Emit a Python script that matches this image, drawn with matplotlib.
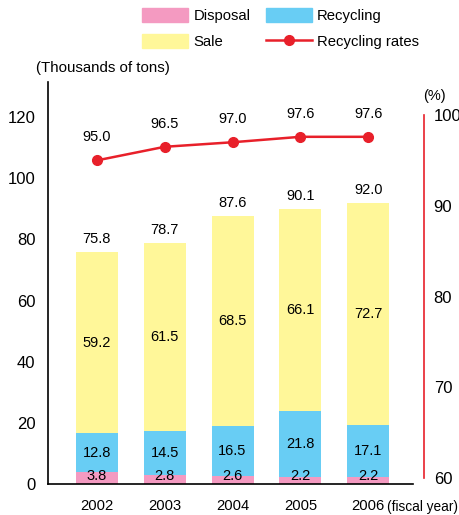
import matplotlib
matplotlib.use("Agg")
import matplotlib.pyplot as plt
from matplotlib.patches import Patch
from matplotlib.lines import Line2D

plt.rcParams['font.family'] = ['Liberation Sans', 'DejaVu Sans']

years = ["2002", "2003", "2004", "2005", "2006"]
disposal = [3.8, 2.8, 2.6, 2.2, 2.2]
recycling = [12.8, 14.5, 16.5, 21.8, 17.1]
sale = [59.2, 61.5, 68.5, 66.1, 72.7]
totals = [75.8, 78.7, 87.6, 90.1, 92.0]
rates = [95.0, 96.5, 97.0, 97.6, 97.6]

c_disp = "#F49AC1"
c_rec = "#68CDF4"
c_sale = "#FFF799"
c_red = "#E8202A"

fig = plt.figure(figsize=(4.6, 5.15), dpi=100)
ax = fig.add_axes([48 / 460, 1 - 484 / 515, 365 / 460, 402 / 515])

x = list(range(len(years)))
w = 0.62
base2 = [d + r for d, r in zip(disposal, recycling)]
ax.bar(x, disposal, w, color=c_disp, zorder=2)
ax.bar(x, recycling, w, bottom=disposal, color=c_rec, zorder=2)
ax.bar(x, sale, w, bottom=base2, color=c_sale, zorder=2)

lab = dict(ha="center", va="center", fontsize=10.5, zorder=4)
for i in x:
    ax.text(i, 2.6, f"{disposal[i]:.1f}", **lab)
    ax.text(i, disposal[i] + recycling[i] / 2, f"{recycling[i]:.1f}", **lab)
    ax.text(i, base2[i] + sale[i] / 2, f"{sale[i]:.1f}", **lab)
    ax.annotate(f"{totals[i]:.1f}", (i, base2[i] + sale[i]), xytext=(0, 13),
                textcoords="offset pixels", ha="center", va="center", fontsize=10.5)

ax.set_xlim(-0.72, 4.66)
ax.set_ylim(0, 131.5)
ax.set_yticks(range(0, 121, 20))
ax.set_xticks(x)
ax.set_xticklabels(years, fontsize=10.6)
ax.tick_params(axis="y", length=0, pad=9, labelsize=12)
ax.tick_params(axis="x", length=0, pad=11)
for s in ["top", "right"]:
    ax.spines[s].set_visible(False)
ax.spines["left"].set_linewidth(1.2)
ax.spines["bottom"].set_linewidth(1.2)

ax2 = ax.twinx()
ax2.set_ylim(59.34, 103.64)
ax2.plot(x, rates, color=c_red, lw=1.8, marker="o", ms=7, zorder=5)
for i in x:
    ax2.annotate(f"{rates[i]:.1f}", (i, rates[i]), xytext=(0, 23),
                 textcoords="offset pixels", ha="center", va="center", fontsize=10.5)
for s in ["top", "left", "bottom"]:
    ax2.spines[s].set_visible(False)
ax2.spines["right"].set_color(c_red)
ax2.spines["right"].set_linewidth(1.2)
ax2.spines["right"].set_position(("outward", 7.9))
ax2.spines["right"].set_bounds(60, 100)
ax2.set_yticks(range(60, 101, 10))
ax2.set_yticks([90], minor=True)
ax2.tick_params(axis="y", which="major", length=0, pad=7, labelsize=12)
ax2.tick_params(axis="y", which="minor", length=4, direction="in", color=c_red, width=1.2)

fig.text(103 / 460, 1 - 68 / 515, "(Thousands of tons)", ha="center", va="center", fontsize=10.8)
fig.text(434 / 460, 1 - 96 / 515, "(%)", ha="center", va="center", fontsize=10.5)
fig.text(458 / 460, 1 - 507 / 515, "(fiscal year)", ha="right", va="center", fontsize=9.8)

handles = [Patch(color=c_disp), Patch(color=c_sale), Patch(color=c_rec),
           Line2D([], [], color=c_red, lw=1.8, marker="o", ms=7)]
labels = ["Disposal", "Sale", "Recycling", "Recycling rates"]
fig.legend(handles, labels, ncol=2, loc="upper left", bbox_to_anchor=(142 / 460, 1 - 8 / 515),
           frameon=False, fontsize=10.7, handlelength=3.1, handleheight=1.1,
           handletextpad=0.35, columnspacing=1.05, labelspacing=0.72,
           borderpad=0, borderaxespad=0)

fig.savefig("out.png", dpi=100)
